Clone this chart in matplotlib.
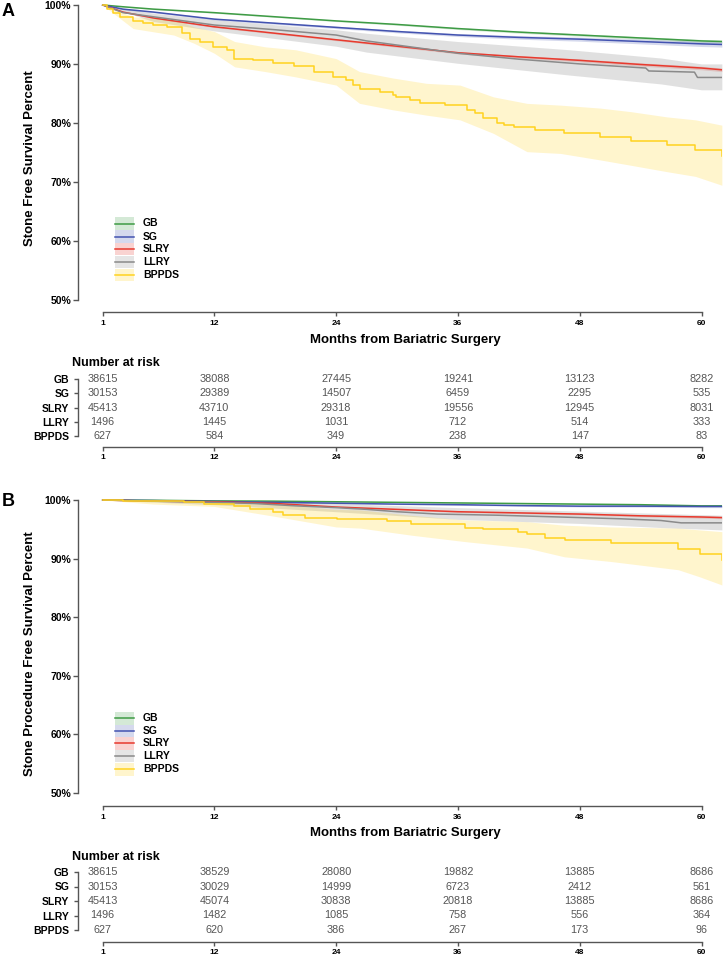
import matplotlib
matplotlib.use("Agg")
import matplotlib.pyplot as plt
from matplotlib.lines import Line2D
from matplotlib.patches import Rectangle
import numpy as np

plt.rcParams['font.family'] = ['Liberation Sans', 'DejaVu Sans']

W, H, DPI = 725, 957, 100

# ---------------- data ----------------
groups = ["GB", "SG", "SLRY", "LLRY", "BPPDS"]
colors = ["#3E9B45", "#4353B0", "#E83A2E", "#8A8A8A", "#FFD21F"]
xticks = [1, 12, 24, 36, 48, 60]
yticks = [50, 60, 70, 80, 90, 100]
risk_times = [1, 12, 24, 36, 48, 60]

# Panel A: stone free survival
a_grid = [1, 3, 6, 12, 18, 24, 30, 36, 42, 48, 54, 60, 62]
a_gb = [100, 99.7, 99.3, 98.7, 98.0, 97.3, 96.7, 96.0, 95.4, 94.9, 94.4, 93.9, 93.8]
a_gb_hw = [0, 0.05, 0.08, 0.1, 0.1, 0.12, 0.14, 0.16, 0.18, 0.2, 0.22, 0.25, 0.25]
a_sg = [100, 99.3, 98.8, 97.6, 96.9, 96.2, 95.5, 94.9, 94.5, 94.2, 93.8, 93.4, 93.3]
a_sg_hw = [0, 0.1, 0.12, 0.15, 0.18, 0.2, 0.22, 0.25, 0.3, 0.35, 0.4, 0.45, 0.45]
a_slry = [100, 98.8, 97.8, 96.3, 95.2, 94.1, 93.0, 91.9, 91.2, 90.6, 89.9, 89.3, 89.0]
a_slry_hw = [0, 0.08, 0.1, 0.12, 0.14, 0.16, 0.18, 0.2, 0.22, 0.25, 0.28, 0.3, 0.3]

a_llry_t = [1, 3, 6, 12, 18, 24, 27, 30, 36, 42, 48, 54.5, 54.8, 59.3, 59.6, 62]
a_llry = [100, 98.7, 98.0, 96.6, 95.8, 94.9, 93.9, 93.2, 91.8, 90.8, 90.0, 89.3, 88.8, 88.6, 87.7, 87.7]
a_llry_ci_t = [1, 6, 12, 24, 27, 36, 47, 56, 60, 62]
a_llry_up = [100, 98.6, 97.5, 95.8, 95.2, 93.8, 92.4, 91.0, 90.0, 90.0]
a_llry_lo = [100, 97.2, 95.6, 93.0, 92.0, 90.1, 88.1, 86.6, 85.6, 85.6]

a_bp_t = [1, 1.4, 2.05, 2.7, 4.0, 5.0, 6.0, 7.3, 8.8, 9.6, 10.6, 11.9, 13.2, 13.9, 15.8,
          17.8, 19.8, 21.8, 23.7, 25.0, 25.7, 26.35, 28.3, 29.6, 29.9, 31.3, 32.3, 34.7,
          36.9, 37.7, 38.5, 39.8, 40.5, 41.5, 43.6, 46.4, 50.0, 53.0, 56.6, 59.4, 62.0]
a_bp = [100, 99.4, 98.6, 98.0, 97.2, 96.9, 96.6, 96.2, 95.2, 94.3, 93.8, 92.9, 92.4, 90.9, 90.7,
        90.2, 89.7, 88.7, 87.8, 87.3, 86.4, 85.8, 85.3, 84.7, 84.4, 83.9, 83.4, 83.0,
        82.2, 81.6, 80.8, 79.9, 79.6, 79.3, 78.7, 78.2, 77.6, 76.9, 76.2, 75.3, 74.4]
a_bp_ci_t = [1, 4.0, 8.0, 10.0, 12.0, 14.0, 17.0, 20.0, 24.0, 26.3, 29.6, 32.9, 36.2, 39.5,
             42.8, 46.1, 50.0, 53.0, 56.6, 59.4, 62.0]
a_bp_up = [100, 98.0, 97.5, 96.3, 95.5, 93.8, 92.9, 92.4, 90.9, 88.7, 87.6, 86.7, 86.4, 84.4,
           83.3, 83.0, 82.5, 81.9, 81.0, 80.5, 79.6]
a_bp_lo = [100, 96.0, 94.9, 93.5, 91.8, 89.5, 88.7, 87.8, 86.4, 83.3, 82.2, 81.3, 80.5, 78.2,
           75.1, 74.8, 73.7, 72.8, 71.7, 70.9, 69.4]

a_risk_gb = [38615, 38088, 27445, 19241, 13123, 8282]
a_risk_sg = [30153, 29389, 14507, 6459, 2295, 535]
a_risk_slry = [45413, 43710, 29318, 19556, 12945, 8031]
a_risk_llry = [1496, 1445, 1031, 712, 514, 333]
a_risk_bp = [627, 584, 349, 238, 147, 83]

# Panel B: stone procedure free survival
b_grid = [1, 6, 12, 18, 24, 30, 36, 42, 48, 54, 60, 62]
b_gb = [100, 99.95, 99.85, 99.8, 99.7, 99.6, 99.5, 99.4, 99.3, 99.2, 99.0, 99.0]
b_gb_hw = [0, 0.02, 0.04, 0.05, 0.06, 0.07, 0.08, 0.09, 0.1, 0.12, 0.14, 0.14]
b_sg = [100, 99.9, 99.75, 99.6, 99.45, 99.3, 99.2, 99.05, 98.95, 98.95, 98.9, 98.9]
b_sg_hw = [0, 0.03, 0.05, 0.06, 0.07, 0.08, 0.1, 0.12, 0.14, 0.16, 0.2, 0.2]
b_slry = [100, 99.8, 99.7, 99.4, 98.8, 98.4, 98.0, 97.8, 97.6, 97.3, 97.1, 97.0]
b_slry_hw = [0, 0.03, 0.05, 0.06, 0.08, 0.1, 0.12, 0.13, 0.15, 0.17, 0.2, 0.2]

b_llry_t = [1, 6, 12, 16, 20, 24, 27, 30, 34, 40, 48, 52, 56, 58, 62]
b_llry = [100, 99.8, 99.6, 99.4, 99.0, 98.7, 98.4, 98.0, 97.6, 97.4, 97.0, 96.8, 96.5, 96.1, 96.1]
b_llry_ci_t = [1, 12, 24, 36, 48, 56, 62]
b_llry_up = [100, 99.9, 99.4, 98.7, 98.1, 97.7, 97.4]
b_llry_lo = [100, 99.2, 98.0, 96.7, 96.0, 95.3, 94.9]

b_bp_t = [1, 3, 6, 9, 11, 13.9, 15.5, 17.8, 18.8, 20.9, 24.1, 29.0, 31.4, 36.7, 38.5,
          41.9, 42.8, 44.6, 46.5, 51.1, 57.7, 59.8, 62.0]
b_bp = [100, 99.9, 99.8, 99.6, 99.4, 98.9, 98.5, 98.0, 97.4, 97.0, 96.7, 96.4, 95.85, 95.3, 95.0,
        94.6, 94.2, 93.6, 93.2, 92.6, 91.6, 90.8, 89.8]
b_bp_ci_t = [1, 6, 12, 18, 24, 26.4, 31.4, 36.7, 42.8, 46.5, 51.1, 57.7, 59.8, 62]
b_bp_up = [100, 100, 99.9, 99.3, 98.4, 98.3, 97.4, 96.6, 96.3, 95.7, 95.4, 95.2, 94.9, 94.6]
b_bp_lo = [100, 99.3, 98.9, 97.2, 95.4, 95.2, 94.0, 92.9, 91.8, 90.3, 89.5, 88.1, 86.9, 85.5]

b_risk_gb = [38615, 38529, 28080, 19882, 13885, 8686]
b_risk_sg = [30153, 30029, 14999, 6723, 2412, 561]
b_risk_slry = [45413, 45074, 30838, 20818, 13885, 8686]
b_risk_llry = [1496, 1482, 1085, 758, 556, 364]
b_risk_bp = [627, 620, 386, 267, 173, 96]

# ---------------- layout helpers ----------------
fig = plt.figure(figsize=(W / DPI, H / DPI), dpi=DPI)
fig.patch.set_facecolor("white")

AX_L = 78.3      # px, y-axis line
AX_R = 722.0     # px
M1_PX = 102.7    # px of month 1
PX_PER_M = 10.15
XLO = 1 - (M1_PX - AX_L) / PX_PER_M
XHI = 1 + (AX_R - M1_PX) / PX_PER_M
SPINE_C = "#555555"


def fx(x):
    return x / W


def fy(y):
    return 1 - y / H


def add_ax(top_px, bottom_px):
    return fig.add_axes([fx(AX_L), fy(bottom_px), (AX_R - AX_L) / W, (bottom_px - top_px) / H])


def style_axis(ax):
    for s in ["top", "right"]:
        ax.spines[s].set_visible(False)
    for s in ["left", "bottom"]:
        ax.spines[s].set_color(SPINE_C)
        ax.spines[s].set_linewidth(1.0)
    ax.set_xlim(XLO, XHI)
    ax.set_facecolor("none")


def main_panel(top_px, y100_px, y50_px, bottom_px, series, bands):
    ax = add_ax(top_px, bottom_px)
    per = (y50_px - y100_px) / 50.0
    ylo = 50 - (bottom_px - y50_px) / per
    yhi = 100 + (y100_px - top_px) / per
    style_axis(ax)
    ax.set_ylim(ylo, yhi)
    ax.spines["left"].set_bounds(50, 100)
    ax.spines["bottom"].set_bounds(1, 60)
    ax.set_yticks(yticks)
    ax.set_yticklabels([f"{v}%" for v in yticks], fontweight="bold", fontsize=7.5)
    ax.set_xticks(xticks)
    ax.set_xticklabels([str(v) for v in xticks], fontweight="bold", fontsize=6)
    ax.tick_params(axis="y", direction="out", length=3.6, width=1.0, color=SPINE_C, pad=1.6)
    ax.tick_params(axis="x", direction="out", length=2.9, width=1.0, color=SPINE_C, pad=3.0)
    for (t, lo, hi), c in zip(bands, colors):
        alpha = 0.26 if c == "#8A8A8A" else 0.22
        ax.fill_between(t, lo, hi, color=c, alpha=alpha, lw=0)
    for (t, v, step), c in zip(series, colors):
        if step:
            ax.step(t, v, where="post", color=c, lw=1.1)
        else:
            ax.plot(t, v, color=c, lw=1.1)
    return ax


def hw_band(t, v, hw):
    v = np.asarray(v)
    hw = np.asarray(hw)
    return (t, v - hw, v + hw)


def risk_table(top_px, row0_px, row_sp, bottom_px, rows, header_px):
    ax = add_ax(top_px, bottom_px)
    style_axis(ax)
    ylo = (bottom_px - row0_px) / row_sp
    yhi = (top_px - row0_px) / row_sp
    ax.set_ylim(ylo, yhi)
    ax.spines["left"].set_bounds(0, 4)
    ax.spines["bottom"].set_bounds(1, 60)
    ax.set_yticks(range(len(groups)))
    ax.set_yticklabels(groups, fontweight="bold", fontsize=7.5)
    ax.set_xticks(xticks)
    ax.set_xticklabels([str(v) for v in xticks], fontweight="bold", fontsize=6)
    ax.tick_params(axis="y", direction="out", length=2.9, width=1.0, color=SPINE_C, pad=3.5)
    ax.tick_params(axis="x", direction="out", length=2.9, width=1.0, color=SPINE_C, pad=2.2)
    for i, vals in enumerate(rows):
        for t, n in zip(risk_times, vals):
            ax.text(t, i, str(n), ha="center", va="center", fontsize=7.8, color="#555555")
    fig.text(fx(72.3), fy(header_px), "Number at risk", ha="left", va="center",
             fontsize=9, fontweight="bold")
    return ax


def legend(rows_px):
    for c, g, y in zip(colors, groups, rows_px):
        fig.add_artist(Rectangle((fx(115), fy(y + 6.2)), 19 / W, 12.4 / H, transform=fig.transFigure,
                                 facecolor=c, alpha=0.22, lw=0))
        fig.add_artist(Line2D([fx(115), fx(134)], [fy(y), fy(y)], transform=fig.transFigure,
                              color=c, lw=1.1))
        fig.text(fx(143), fy(y), g, ha="left", va="center", fontsize=7.5, fontweight="bold")


# ---------------- Panel A ----------------
series_a = [(a_grid, a_gb, False), (a_grid, a_sg, False), (a_grid, a_slry, False),
            (a_llry_t, a_llry, False), (a_bp_t, a_bp, True)]
bands_a = [hw_band(a_grid, a_gb, a_gb_hw), hw_band(a_grid, a_sg, a_sg_hw),
           hw_band(a_grid, a_slry, a_slry_hw),
           (a_llry_ci_t, a_llry_lo, a_llry_up),
           (a_bp_ci_t, a_bp_lo, a_bp_up)]
main_panel(2, 5, 299.5, 311.7, series_a, bands_a)
fig.text(fx(30), fy(158), "Stone Free Survival Percent", rotation=90, ha="center", va="center",
         fontsize=9.5, fontweight="bold")
fig.text(fx(405), fy(340), "Months from Bariatric Surgery", ha="center", va="center",
         fontsize=9.5, fontweight="bold")
fig.text(fx(8.5), fy(11), "A", ha="center", va="center", fontsize=13, fontweight="bold")
legend([223.5, 236.5, 249.2, 262, 275])
risk_table(352, 379, 14.3, 447,
           [a_risk_gb, a_risk_sg, a_risk_slry, a_risk_llry, a_risk_bp], 363)

# ---------------- Panel B ----------------
series_b = [(b_grid, b_gb, False), (b_grid, b_sg, False), (b_grid, b_slry, False),
            (b_llry_t, b_llry, False), (b_bp_t, b_bp, True)]
bands_b = [hw_band(b_grid, b_gb, b_gb_hw), hw_band(b_grid, b_sg, b_sg_hw),
           hw_band(b_grid, b_slry, b_slry_hw),
           (b_llry_ci_t, b_llry_lo, b_llry_up),
           (b_bp_ci_t, b_bp_lo, b_bp_up)]
main_panel(497, 500, 793, 805.5, series_b, bands_b)
fig.text(fx(30), fy(654), "Stone Procedure Free Survival Percent", rotation=90, ha="center",
         va="center", fontsize=9.5, fontweight="bold")
fig.text(fx(405), fy(833), "Months from Bariatric Surgery", ha="center", va="center",
         fontsize=9.5, fontweight="bold")
fig.text(fx(8.5), fy(501.5), "B", ha="center", va="center", fontsize=13, fontweight="bold")
legend([718.3, 730.8, 743.3, 756, 769.3])
risk_table(845, 872, 14.5, 942,
           [b_risk_gb, b_risk_sg, b_risk_slry, b_risk_llry, b_risk_bp], 857)

fig.savefig("out.png", dpi=DPI, facecolor="white")
